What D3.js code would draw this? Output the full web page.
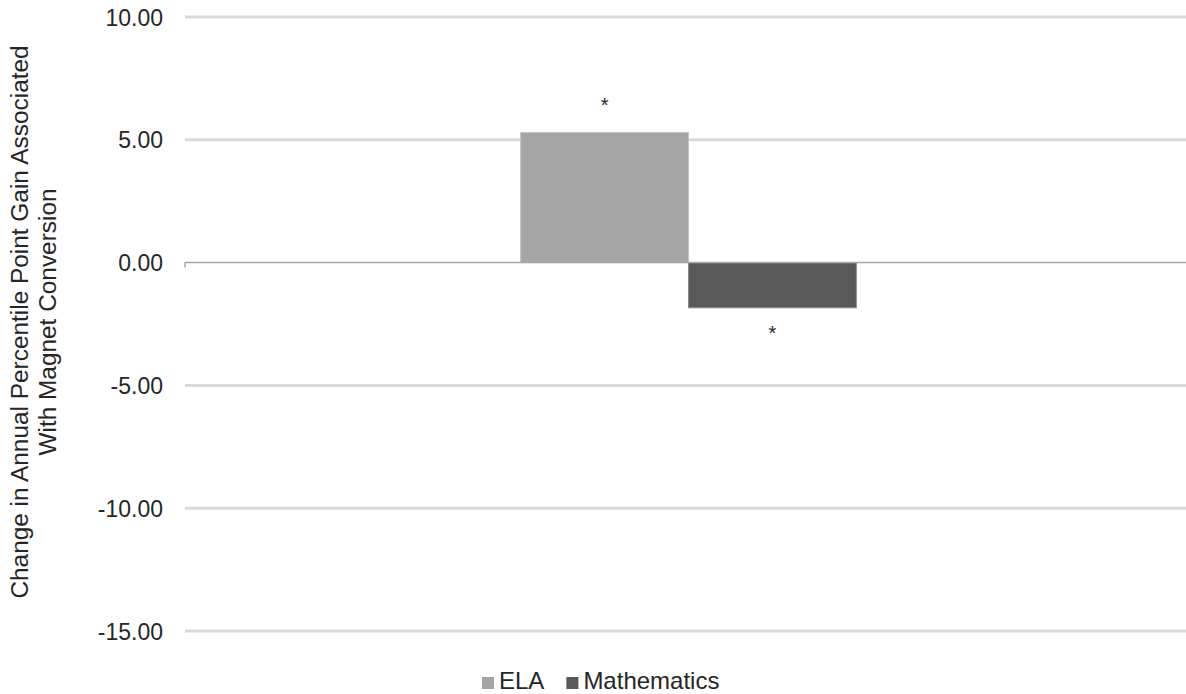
<!DOCTYPE html>
<html><head><meta charset="utf-8">
<script src="https://cdn.jsdelivr.net/npm/d3@7"></script>
<style>
html,body{margin:0;padding:0;background:#fff;}
svg{display:block;font-family:"Liberation Sans",Arial,sans-serif;}
</style></head>
<body><svg id="chart" width="1186" height="694"></svg>
<script>
const categories = [""];
const seriesNames = ["ELA", "Mathematics"];
const elaValues = [5.30];
const mathValues = [-1.84];
const significance = ["*", "*"];
const yTicks = [-15, -10, -5, 0, 5, 10];
const yTitleLines = ["Change in Annual Percentile Point Gain Associated", "With Magnet Conversion"];
const colors = ["#a5a5a5", "#595959"];
const strokes = ["#c4c4c4", "#8a8a8a"];

const svg = d3.select("#chart");
const plotLeft = 185, plotRight = 1192, plotTop = 17, plotBottom = 631;

const y = d3.scaleLinear().domain([-15, 10]).range([plotBottom, plotTop]);
const x0 = d3.scaleBand().domain(categories).range([plotLeft, plotRight]).paddingInner(0.5).paddingOuter(0.5);
const x1 = d3.scaleBand().domain(seriesNames).range([0, x0.bandwidth()]);

// gridlines
svg.append("g").selectAll("line").data(yTicks.filter(d => d !== 0)).join("line")
  .attr("x1", plotLeft).attr("x2", plotRight)
  .attr("y1", d => y(d)).attr("y2", d => y(d))
  .attr("stroke", "#d9d9d9").attr("stroke-width", 3);

// y axis labels
const yAxis = d3.axisLeft(y).tickValues(yTicks).tickFormat(d3.format(".2f")).tickSize(0).tickPadding(22);
const ya = svg.append("g").attr("transform", `translate(${plotLeft},0)`).call(yAxis);
ya.select(".domain").remove();
ya.selectAll("text").attr("font-size", 23).attr("fill", "#262626")
  .attr("font-family", "'Liberation Sans', Arial, sans-serif").attr("dy", "0.35em")
  .text(d => d3.format(".2f")(d).replace("\u2212", "-"));

// bars
const rows = categories.map((c, i) => ({cat: c, vals: [elaValues[i], mathValues[i]]}));
const g = svg.append("g");
rows.forEach(r => {
  r.vals.forEach((v, j) => {
    const xp = x0(r.cat) + x1(seriesNames[j]);
    g.append("rect")
      .attr("x", xp).attr("width", x1.bandwidth())
      .attr("y", y(Math.max(0, v))).attr("height", Math.abs(y(v) - y(0)))
      .attr("fill", colors[j]).attr("stroke", strokes[j]).attr("stroke-width", 1);
    g.append("text")
      .attr("x", xp + x1.bandwidth() / 2)
      .attr("y", v >= 0 ? y(v) - 20 : y(v) + 32)
      .attr("text-anchor", "middle").attr("font-size", 20).attr("fill", "#262626")
      .text(significance[j]);
  });
});

// zero line
svg.append("line").attr("x1", plotLeft).attr("x2", plotRight).attr("y1", y(0)).attr("y2", y(0))
  .attr("stroke", "#a6a6a6").attr("stroke-width", 1.5);
svg.append("line").attr("x1", plotLeft).attr("x2", plotLeft).attr("y1", y(0)).attr("y2", y(0) + 5)
  .attr("stroke", "#a6a6a6").attr("stroke-width", 1.5);

// y title
const yt = svg.append("text").attr("transform", `translate(28,322) rotate(-90)`)
  .attr("text-anchor", "middle").attr("font-size", 24.4).attr("fill", "#262626");
yTitleLines.forEach((t, i) => {
  yt.append("tspan").attr("x", 0).attr("y", i * 28).text(t);
});

// legend
const lg = svg.append("g");
let lx = 482;
seriesNames.forEach((s, i) => {
  lg.append("rect").attr("x", lx).attr("y", 677).attr("width", 12).attr("height", 12).attr("fill", colors[i]);
  const t = lg.append("text").attr("x", lx + 17).attr("y", 689).attr("font-size", 24).attr("fill", "#262626").text(s);
  lx += 17 + t.node().getComputedTextLength() + 22;
});
</script></body></html>
